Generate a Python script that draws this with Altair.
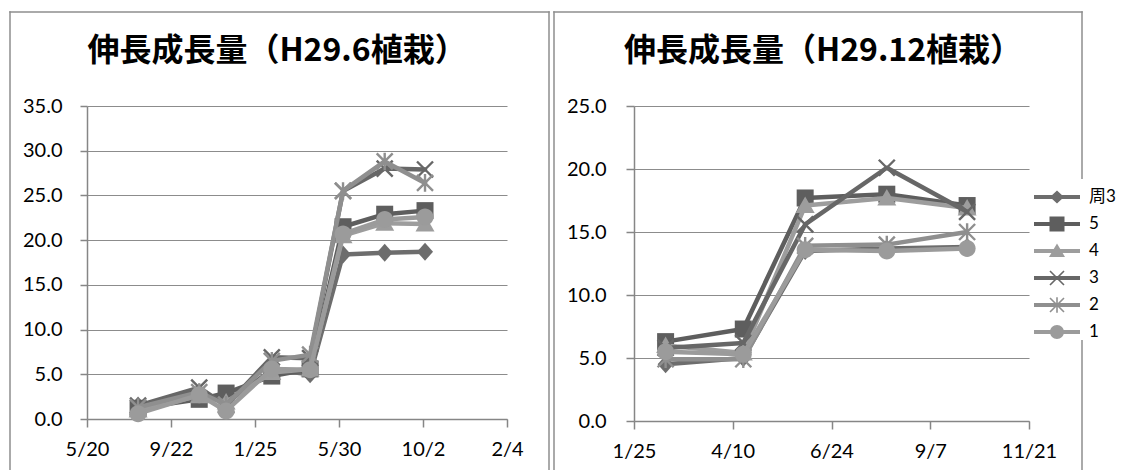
import math

import altair as alt
import pandas as pd

# ---- series -------------------------------------------------------------
SERIES = ["周3", "5", "4", "3", "2", "1"]
SERIES_COLORS = ["#6d6d6d", "#5e5e5e", "#9d9d9d", "#676767", "#8f8f8f", "#9b9b9b"]

# ---- 伸長成長量（H29.6植栽） -------------------------------------------------
DATES_A = ["2017-08-04", "2017-11-03", "2017-12-13", "2018-02-19",
           "2018-04-17", "2018-06-05", "2018-08-06", "2018-10-05"]
A_ZHOU3 = [1.5, 3.0, 1.8, 5.5, 5.0, 18.4, 18.6, 18.7]
A_5 = [1.2, 2.2, 2.9, 4.8, 5.6, 21.5, 22.9, 23.3]
A_4 = [1.0, 2.6, 1.9, 5.2, 5.6, 20.5, 21.9, 21.8]
A_3 = [1.5, 3.5, 1.5, 6.9, 6.8, 25.5, 28.0, 27.9]
A_2 = [1.3, 3.0, 1.6, 6.5, 7.2, 25.5, 28.8, 26.4]
A_1 = [0.6, 2.7, 0.9, 5.6, 5.5, 20.7, 22.3, 22.6]
TICKS_A = ["2017-05-20", "2017-09-22", "2018-01-25", "2018-05-30", "2018-10-02", "2019-02-04"]
Y_MAX_A = 35
TITLE_A = "伸長成長量（H29.6植栽）"

# ---- 伸長成長量（H29.12植栽） ------------------------------------------------
DATES_B = ["2018-02-18", "2018-04-18", "2018-06-04", "2018-08-05", "2018-10-05"]
B_ZHOU3 = [4.5, 5.0, 13.5, 13.7, 13.8]
B_5 = [6.3, 7.3, 17.7, 18.0, 17.1]
B_4 = [6.0, 5.4, 17.1, 17.7, 16.9]
B_3 = [5.8, 6.2, 15.6, 20.1, 16.6]
B_2 = [4.9, 4.9, 13.9, 14.0, 15.0]
B_1 = [5.5, 5.3, 13.6, 13.5, 13.7]
TICKS_B = ["2018-01-25", "2018-04-10", "2018-06-24", "2018-09-07", "2018-11-21"]
Y_MAX_B = 25
TITLE_B = "伸長成長量（H29.12植栽）"

FONT = "Lato"
CJK_FONT = "Noto Sans CJK JP"
FRAME_GRAY = "#8e8e8e"
AXIS_GRAY = "#868686"
GRID_GRAY = "#8c8c8c"


# ---- marker shapes (filled SVG paths, clockwise rings) ------------------
def _ring(points):
    s = sum(x1 * y2 - x2 * y1 for (x1, y1), (x2, y2) in zip(points, points[1:] + points[:1]))
    return points if s > 0 else points[::-1]


def _poly(points, unit):
    pts = _ring(points)
    return "M" + "L".join(f"{x / unit:.4f},{y / unit:.4f}" for x, y in pts) + "Z"


def _bar(x1, y1, x2, y2, w):
    length = math.hypot(x2 - x1, y2 - y1)
    nx, ny = -(y2 - y1) / length * w / 2, (x2 - x1) / length * w / 2
    return [(x1 + nx, y1 + ny), (x2 + nx, y2 + ny), (x2 - nx, y2 - ny), (x1 - nx, y1 - ny)]


def _circle(r, unit):
    r = r / unit
    return f"M{-r:.4f},0A{r:.4f},{r:.4f} 0 1 1 {r:.4f},0A{r:.4f},{r:.4f} 0 1 1 {-r:.4f},0Z"


def marker_set(unit, d, sq, tri, arm, thin, r):
    x_mark = _poly(_bar(-arm, -arm, arm, arm, thin), unit) + _poly(_bar(-arm, arm, arm, -arm, thin), unit)
    star = x_mark + _poly(_bar(0, -arm * 1.1, 0, arm * 1.1, thin), unit)
    return [
        _poly([(0, -d[1]), (d[0], 0), (0, d[1]), (-d[0], 0)], unit),
        _poly([(-sq, -sq), (sq, -sq), (sq, sq), (-sq, sq)], unit),
        _poly([(0, -tri[1]), (tri[0], tri[2]), (-tri[0], tri[2])], unit),
        x_mark,
        star,
        _circle(r, unit),
    ]


PLOT_SIZE = 324            # 18 px box -> 9 px per path unit
PLOT_MARKERS = marker_set(9, (8, 9), 8.5, (9.5, 9, 7.5), 8, 2.4, 8.5)

LEGEND_SIZE = 1296         # 36 px box -> 18 px per path unit; line sample runs 46 px
_legend_line = _poly(_bar(-23, 0, 23, 0, 4), 18)
LEGEND_MARKERS = [_legend_line + m for m in marker_set(18, (7, 6.5), 7.5, (8, 7.5, 6), 7, 1.6, 7)]


def _dt(s):
    y, m, d = (int(p) for p in s.split("-"))
    return alt.DateTime(year=y, month=m, date=d, utc=True)


def panel(dates, series_values, ticks, y_max, title, title_x, y_label_pad, y_tick,
          width, height, box, legend_layer=False):
    rows = [{"date": d, "value": v, "series": s}
            for s, vals in zip(SERIES, series_values) for d, v in zip(dates, vals)]
    df = pd.DataFrame(rows)

    x = alt.X("date:T", title=None,
              scale=alt.Scale(type="utc", domain=[_dt(ticks[0]), _dt(ticks[-1])]),
              axis=alt.Axis(values=[_dt(t) for t in ticks], format="%-m/%-d", grid=False,
                            tickSize=8, labelPadding=12, labelFlush=False, labelOverlap=False))
    y = alt.Y("value:Q", title=None,
              scale=alt.Scale(domain=[0, y_max], nice=False),
              axis=alt.Axis(values=list(range(0, y_max + 1, 5)), format=".1f", grid=True,
                            tickSize=y_tick, labelPadding=y_label_pad, labelOverlap=False))

    # chart-area border (open at the bottom edge of the page) and chart title
    left, top, right, bottom = box
    edge = alt.Chart(pd.DataFrame({"title": [title]}))
    rule = dict(color=FRAME_GRAY, strokeWidth=1.5, strokeCap="square")
    layers = [
        edge.mark_rule(**rule).encode(x=alt.value(left), y=alt.value(top), y2=alt.value(bottom)),
        edge.mark_rule(**rule).encode(x=alt.value(left), x2=alt.value(right), y=alt.value(top)),
        edge.mark_rule(**rule).encode(x=alt.value(right), y=alt.value(top), y2=alt.value(bottom)),
        edge.mark_text(font=CJK_FONT, fontSize=32, fontWeight="bold", color="black",
                       align="center", baseline="alphabetic")
        .encode(text="title:N", x=alt.value(title_x), y=alt.value(-45)),
    ]

    for s, color, shape in zip(SERIES, SERIES_COLORS, PLOT_MARKERS):
        base = alt.Chart(df).transform_filter(alt.datum.series == s)
        layers.append(base.mark_line(color=color, strokeWidth=4.5, strokeJoin="round",
                                     strokeCap="round").encode(x=x, y=y))
        layers.append(base.mark_point(shape=shape, filled=True, size=PLOT_SIZE, color=color,
                                      opacity=1, strokeWidth=0).encode(x=x, y=y))

    if legend_layer:
        legend = alt.Legend(title=None, orient="none", legendX=947, legendY=73,
                            padding=0, fillColor="white", symbolSize=LEGEND_SIZE,
                            symbolOffset=5, labelOffset=14, rowPadding=1,
                            symbolStrokeWidth=0, labelFont=f"{FONT}, {CJK_FONT}",
                            labelFontSize=17, labelColor="black")
        layers.append(
            alt.Chart(df).transform_filter("false")
            .mark_point(filled=True, opacity=1, size=LEGEND_SIZE, strokeWidth=0)
            .encode(
                color=alt.Color("series:N", scale=alt.Scale(domain=SERIES, range=SERIES_COLORS),
                                legend=legend),
                shape=alt.Shape("series:N", scale=alt.Scale(domain=SERIES, range=LEGEND_MARKERS),
                                legend=legend),
            )
        )

    return alt.layer(*layers).properties(width=width, height=height)


left_chart = panel(DATES_A, [A_ZHOU3, A_5, A_4, A_3, A_2, A_1], TICKS_A, Y_MAX_A, TITLE_A,
                   title_x=190, y_label_pad=18, y_tick=7, width=420, height=313,
                   box=(-77, -94, 462, 364))
right_chart = panel(DATES_B, [B_ZHOU3, B_5, B_4, B_3, B_2, B_1], TICKS_B, Y_MAX_B, TITLE_B,
                    title_x=189, y_label_pad=20, y_tick=8, width=395, height=315,
                    box=(-80, -94, 448, 364), legend_layer=True)

chart = (
    alt.hconcat(left_chart, right_chart, spacing=1)
    .properties(padding={"left": 8, "top": 10, "right": 0, "bottom": 0}, background="white")
    .configure_view(stroke=None)
    .configure_axis(labelFont=FONT, labelFontSize=20, labelColor="black",
                    domainColor=AXIS_GRAY, domainWidth=1.5, tickColor=AXIS_GRAY, tickWidth=1.5,
                    gridColor=GRID_GRAY, gridWidth=1.2)
)

chart.save("out.html", embed_options={"renderer": "svg", "actions": False})
